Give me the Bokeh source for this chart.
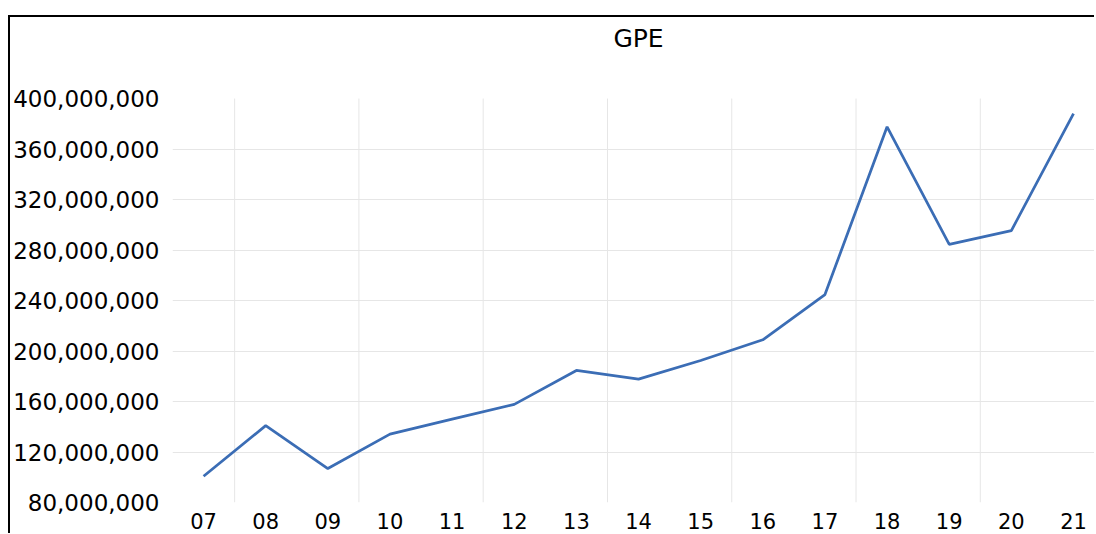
from bokeh.plotting import figure
from bokeh.models import Range1d, FixedTicker, NumeralTickFormatter, Label
from bokeh.embed import file_html
from bokeh.resources import INLINE

title = "GPE"
years = ["07", "08", "09", "10", "11", "12", "13", "14", "15", "16", "17", "18", "19", "20", "21"]
gpe = [100.8e6, 140.9e6, 106.9e6, 134.2e6, 146.0e6, 157.7e6, 184.6e6, 177.7e6,
       192.5e6, 208.9e6, 244.7e6, 377.6e6, 284.5e6, 295.4e6, 388.1e6]
y_ticks = [80e6, 120e6, 160e6, 200e6, 240e6, 280e6, 320e6, 360e6, 400e6]

xs = list(range(len(years)))
FONT = "DejaVu Sans"
y_min, y_max = y_ticks[0], y_ticks[-1]

# the frame reaches up to the top border so that the title can sit inside it
p = figure(width=1086, height=518, output_backend="svg", toolbar_location=None,
           x_range=Range1d(-0.5, 14.37), y_range=Range1d(y_min, 464.2e6),
           min_border_left=150, min_border_right=0,
           min_border_top=0, min_border_bottom=33)
p.margin = (15, 0, 0, 8)
p.styles = {"border-left": "2px solid black", "border-top": "2px solid black"}

p.outline_line_color = None
p.background_fill_color = "white"
p.border_fill_color = "white"

# vertical gridlines every second category boundary, only over the value range
bounds = [i + 0.5 for i in xs[:-1:2]]
p.segment(x0=bounds, y0=[y_min] * len(bounds), x1=bounds, y1=[y_max] * len(bounds),
          line_color="#e6e6e6", line_width=1)
p.xgrid.visible = False
p.ygrid.ticker = FixedTicker(ticks=y_ticks[1:-1])
p.ygrid.grid_line_color = "#e6e6e6"

p.line(xs, gpe, line_color="#3b6db5", line_width=2.75)

p.add_layout(Label(x=(len(years) - 1) / 2, y=447.5e6, text=title,
                   text_align="center", text_baseline="middle",
                   text_font=FONT, text_font_size="25px", text_color="black"))

p.xaxis.ticker = FixedTicker(ticks=xs)
p.xaxis.major_label_overrides = {i: y for i, y in enumerate(years)}
p.yaxis.ticker = FixedTicker(ticks=y_ticks)
p.yaxis.formatter = NumeralTickFormatter(format="0,0")
for ax in (p.xaxis[0], p.yaxis[0]):
    ax.axis_line_color = None
    ax.major_tick_line_color = None
    ax.minor_tick_line_color = None
    ax.major_label_text_font = FONT
    ax.major_label_text_color = "black"
p.xaxis.major_label_text_font_size = "21px"
p.yaxis.major_label_text_font_size = "23px"
p.xaxis.major_label_standoff = 4
p.yaxis.major_label_standoff = 7

open("out.html", "w").write(file_html(p, INLINE))
